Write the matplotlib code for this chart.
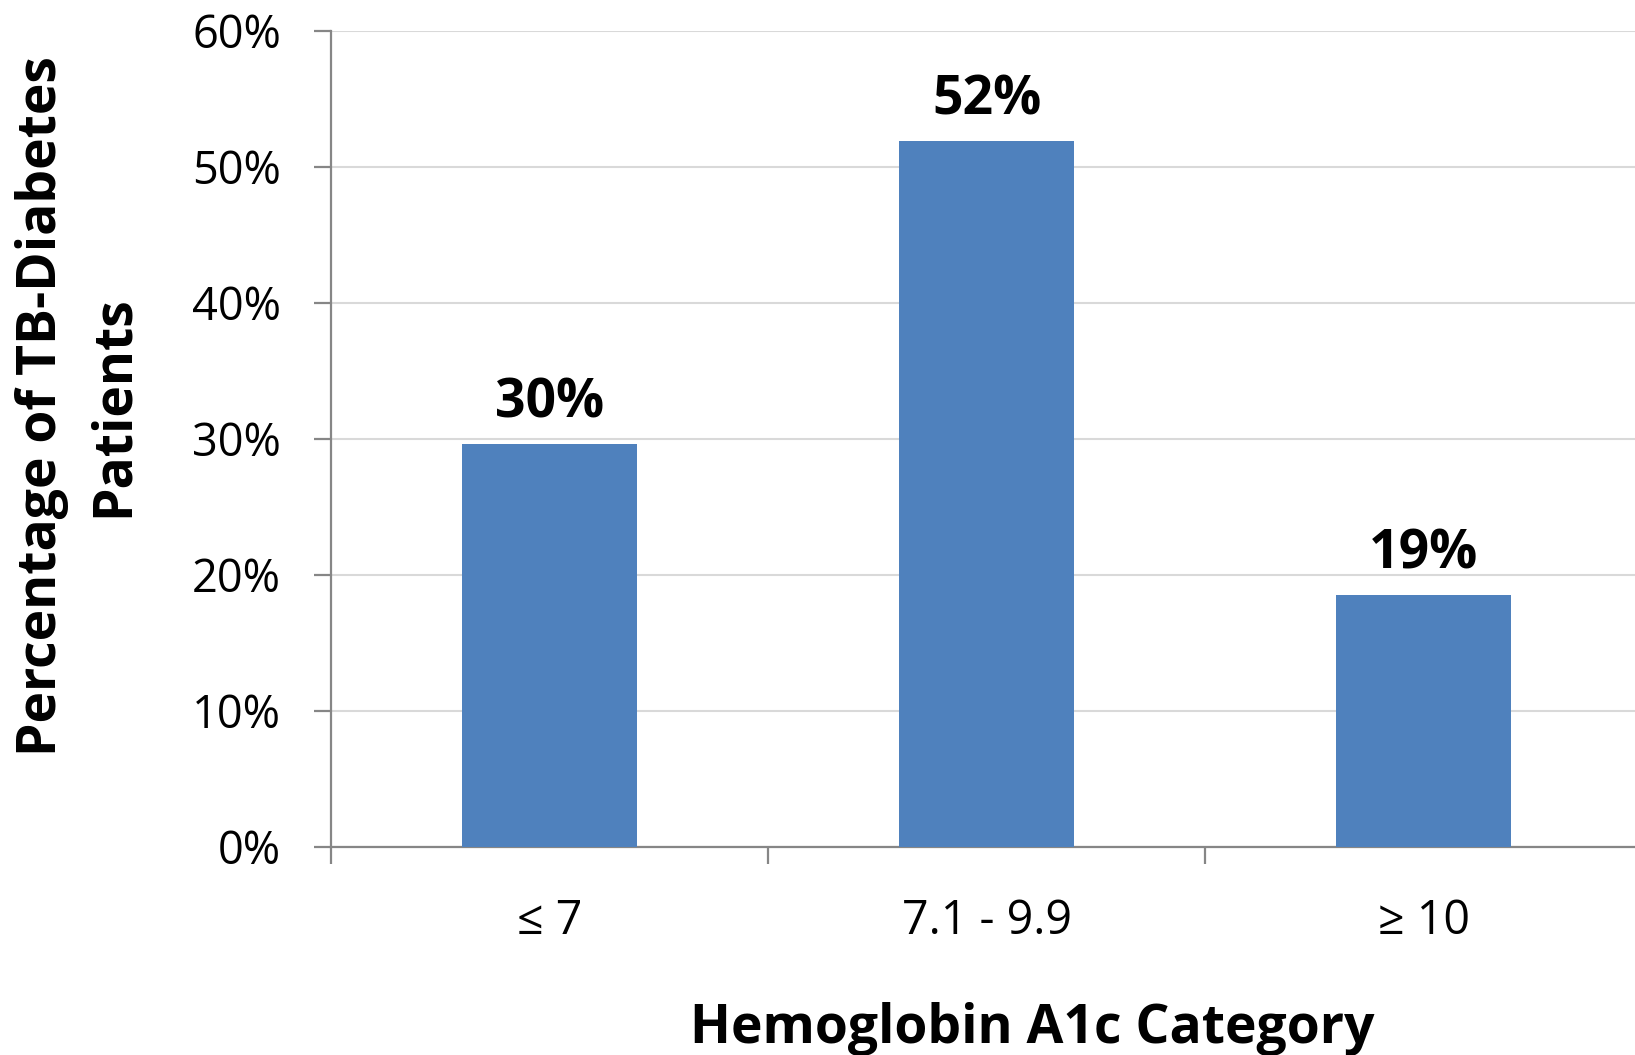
import matplotlib
matplotlib.use("Agg")
import matplotlib.pyplot as plt
from matplotlib.ticker import FixedLocator, FixedFormatter

categories = ["\u2264 7", "7.1 - 9.9", "\u2265 10"]
values = [29.6, 51.9, 18.5]
value_labels = ["30%", "52%", "19%"]
yticks = [0, 10, 20, 30, 40, 50, 60]
ytick_labels = ["0%", "10%", "20%", "30%", "40%", "50%", "60%"]

plt.rcParams['font.family'] = ['Open Sans', 'DejaVu Sans']

W, H = 1635, 1055
fig = plt.figure(figsize=(W / 100, H / 100), dpi=100)
ax = fig.add_axes([331 / W, 1 - 847 / H, 1 - 331 / W, (847 - 31) / H])

x = list(range(len(categories)))
ax.bar(x, values, width=0.4, color="#4f81bd", zorder=3)
ax.set_xlim(-0.5, 2.5 - 7 / 437)
ax.set_ylim(0, 60)

ax.set_yticks(yticks)
ax.set_yticklabels(ytick_labels)
ax.yaxis.grid(True, color="#d9d9d9", linewidth=1.5, zorder=0)
ax.set_axisbelow(True)

ax.xaxis.set_major_locator(FixedLocator([-0.5, 0.5, 1.5, 2.5]))
ax.xaxis.set_major_formatter(FixedFormatter(["", "", "", ""]))
ax.xaxis.set_minor_locator(FixedLocator(x))
ax.xaxis.set_minor_formatter(FixedFormatter(categories))
ax.tick_params(axis="x", which="minor", length=0, pad=36, labelsize=33.5)
ax.tick_params(axis="x", which="major", length=12, width=1.6, color="#868686", direction="out")
ax.tick_params(axis="y", length=12, width=1.6, color="#868686", direction="out", pad=24, labelsize=32.5)

for s in ["top", "right"]:
    ax.spines[s].set_visible(False)
for s in ["left", "bottom"]:
    ax.spines[s].set_color("#868686")
    ax.spines[s].set_linewidth(1.6)

for xi, v, lab in zip(x, values, value_labels):
    ax.annotate(lab, (xi, v), xytext=(0, 19.5), textcoords="offset points",
                ha="center", va="baseline", fontsize=38.5, fontweight="bold")

fig.text(1032 / W, 1 - 1043 / H, "Hemoglobin A1c Category", ha="center", va="baseline",
         fontsize=38.5, fontweight="bold")
fig.text(78 / W, 1 - 406 / H, "Percentage of TB-Diabetes\nPatients", ha="center", va="center",
         rotation=90, fontsize=38.5, fontweight="bold", linespacing=1.42)

fig.savefig("out.png", dpi=100)
